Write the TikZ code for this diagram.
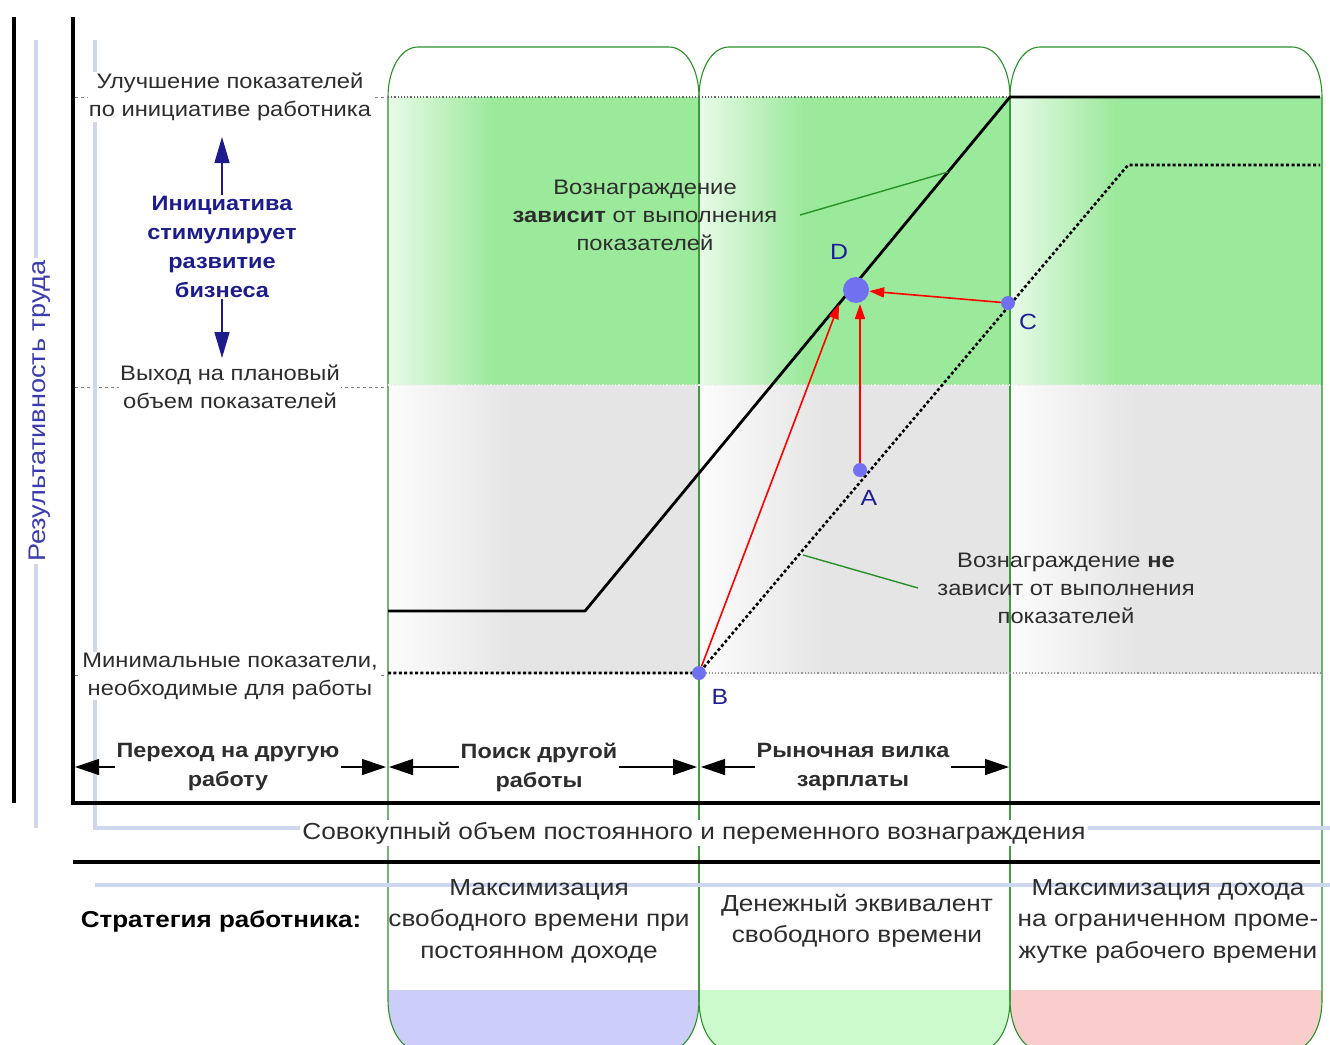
\documentclass[tikz,border=0pt]{standalone}
\usepackage{fontspec}
\setmainfont{Liberation Sans}[FakeStretch=1.13]
\usetikzlibrary{arrows.meta}
\definecolor{gline}{RGB}{40,145,40}
\definecolor{lblue}{RGB}{205,216,240}
\definecolor{navy}{RGB}{28,28,140}
\definecolor{txt}{RGB}{45,45,45}
\definecolor{gL}{RGB}{232,250,232}
\definecolor{gR}{RGB}{155,233,155}
\definecolor{grL}{RGB}{252,252,252}
\definecolor{grR}{RGB}{229,229,229}
\definecolor{ptc}{RGB}{112,112,240}
\definecolor{lbl}{RGB}{30,30,150}
\definecolor{cBlue}{RGB}{205,205,250}
\definecolor{cGreen}{RGB}{205,250,205}
\definecolor{cRed}{RGB}{250,205,205}
\definecolor{axl}{RGB}{60,60,175}
\pgfdeclarehorizontalshading{gband}{100bp}{color(0bp)=(gL); color(25bp)=(gL); color(42bp)=(gR); color(100bp)=(gR)}
\pgfdeclarehorizontalshading{grband}{100bp}{color(0bp)=(grL); color(25bp)=(grL); color(45bp)=(grR); color(100bp)=(grR)}
\tikzset{
  lab/.style={font=\fontsize{21}{28}\selectfont, text=txt, align=center, inner sep=1pt},
  blab/.style={font=\fontsize{20.7}{29}\selectfont\bfseries, text=txt, align=center, fill=white, inner sep=2pt},
  nlab/.style={font=\fontsize{20.8}{29}\selectfont\bfseries, text=navy, align=center, inner sep=1pt},
  slab/.style={font=\fontsize{23.2}{31.5}\selectfont, text=txt, align=center, inner sep=0pt},
  pt/.style={circle, fill=ptc, inner sep=0pt, minimum size=14pt},
  ptl/.style={font=\fontsize{22}{26}\selectfont, text=lbl},
  axis/.style={line width=4.5pt, black},
  bline/.style={line width=4.5pt, lblue},
  colline/.style={draw=gline, line width=1.1pt},
  dimarrow/.style={line width=1.3pt, {Triangle[length=24pt,width=16pt]}-{Triangle[length=24pt,width=16pt]}},
  redarrow/.style={red, line width=1.6pt, -{Triangle[length=15pt,width=10pt]}},
  callout/.style={gline, line width=1.4pt},
}
\begin{document}
\begin{tikzpicture}[x=1pt,y=-1pt]
\useasboundingbox (0,0) rectangle (1330,1044);
\fill[white] (0,0) rectangle (1330,1044);

% bands
\foreach \xl/\xr in {388/699, 699/1010, 1010/1322} {
  \shade[shading=gband] (\xl,97) rectangle (\xr,385);
  \shade[shading=grband] (\xl,385) rectangle (\xr,673);
}
% bottom coloured parts of the columns
\foreach \xl/\xr/\c in {388/699/cBlue, 699/1010/cGreen, 1010/1322/cRed} {
  \begin{scope}
    \clip (\xl,1000) -- (\xl,97) -- (\xr,97) -- (\xr,1000) .. controls (\xr,1028) and ({\xr-13},1050) .. ({\xr-30},1050) -- ({\xl+30},1050) .. controls ({\xl+13},1050) and (\xl,1028) .. (\xl,1000) -- cycle;
    \fill[\c] (\xl,990) rectangle (\xr,1060);
  \end{scope}
}
% column outlines
\foreach \xl/\xr in {388/699, 699/1010, 1010/1322} {
  \draw[colline] (\xl,1000) -- (\xl,97) .. controls (\xl,69) and ({\xl+13},47) .. ({\xl+30},47) -- ({\xr-30},47) .. controls ({\xr-13},47) and (\xr,69) .. (\xr,97) -- (\xr,1000) .. controls (\xr,1028) and ({\xr-13},1050) .. ({\xr-30},1050) -- ({\xl+30},1050) .. controls ({\xl+13},1050) and (\xl,1028) .. (\xl,1000) -- cycle;
}

% level lines
\draw[dotted, line width=1.2pt, gray!80!black] (388,97) -- (1010,97);
\draw[dotted, line width=1.2pt, white!85!gray] (388,385) -- (1322,385);
\draw[dotted, line width=1.2pt, gray!80] (699,673) -- (1322,673);
\foreach \yy in {97,387,675}
  \draw[dashed, gray, line width=0.8pt] (75,\yy) -- (388,\yy);

% blue guide lines
\draw[bline] (36,40) -- (36,828);
\draw[bline] (95,40) -- (95,828) -- (1330,828);
\draw[bline] (95,885) -- (1330,885);

% black axes
\draw[axis] (14,17) -- (14,803);
\draw[axis] (73,17) -- (73,803) -- (1320,803);
\draw[axis] (73,862) -- (1320,862);

% curves
\draw[line width=2.8pt, line join=round] (388,611) -- (585,611) -- (1010,97) -- (1320,97);
\draw[line width=2.6pt, dash pattern=on 3pt off 2.4pt] (388,673) -- (699,673) -- (1128,165) -- (1320,165);

% callouts
\coordinate (s1) at (948,172);
\coordinate (s2) at (803,555);
\node[lab] (t1) at (645,215) {Вознаграждение\\\textbf{зависит} от выполнения\\показателей};
\node[lab] (t2) at (1066,588) {Вознаграждение \textbf{не}\\зависит от выполнения\\показателей};
\draw[callout] (800,215) -- (s1);
\draw[callout] (918,588) -- (s2);

% points
\node[pt] (B) at (699,673) {};
\node[pt] (A) at (860,470) {};
\node[pt] (C) at (1008,303) {};
\node[pt, minimum size=26pt] (D) at (856,290) {};
\coordinate (Dl) at (839,304);
\coordinate (Db) at (860,304);
\draw[redarrow] (B) -- (Dl);
\draw[redarrow] (A) -- (Db);
\draw[redarrow] (C) -- (D);
\node[ptl] (lD) at (839,252) {D};
\node[ptl] (lC) at (1028,322) {C};
\node[ptl] (lA) at (869,498) {A};
\node[ptl] (lB) at (720,697) {B};

% left labels
\node[lab, fill=white] (up) at (230,97) {Улучшение показателей\\по инициативе работника};
\node[lab, fill=white] (plan) at (230,387) {Выход на плановый\\объем показателей};
\node[lab, fill=white] (min) at (230,676) {Минимальные показатели,\\необходимые для работы};
\node[nlab] (init) at (222,247) {Инициатива\\стимулирует\\развитие\\бизнеса};
\coordinate (iu) at (222,137);
\coordinate (id) at (222,358);
\draw[navy, line width=1.3pt, -{Triangle[length=26pt,width=15pt]}] (init.north) -- (iu);
\draw[navy, line width=1.3pt, -{Triangle[length=26pt,width=15pt]}] (init.south) -- (id);

\node[rotate=90, font=\fontsize{24}{28}\selectfont, text=axl, fill=white, inner sep=2pt] (ax) at (40,411) {Результативность труда};

% dimension arrows
\coordinate (d0) at (75,767);
\coordinate (d1) at (386,767);
\coordinate (d2) at (389,767);
\coordinate (d3) at (697,767);
\coordinate (d4) at (701,767);
\coordinate (d5) at (1009,767);
\draw[dimarrow] (d0) -- (d1);
\draw[dimarrow] (d2) -- (d3);
\draw[dimarrow] (d4) -- (d5);
\node[blab] (m1) at (228,767) {Переход на другую\\работу};
\node[blab] (m2) at (539,767) {Поиск другой\\работы};
\node[blab] (m3) at (853,767) {Рыночная вилка\\зарплаты};

\node[slab, fill=white, inner sep=2pt] (xl) at (694,833) {Совокупный объем постоянного и переменного вознаграждения};

% strategy
\node[font=\fontsize{23}{27}\selectfont\bfseries] (st) at (221,921) {Стратегия работника:};
\node[slab] (s1t) at (539,921) {Максимизация\\свободного времени при\\постоянном доходе};
\node[slab] (s2t) at (857,921) {Денежный эквивалент\\свободного времени};
\node[slab] (s3t) at (1168,921) {Максимизация дохода\\на ограниченном проме-\\жутке рабочего времени};
\end{tikzpicture}
\end{document}
